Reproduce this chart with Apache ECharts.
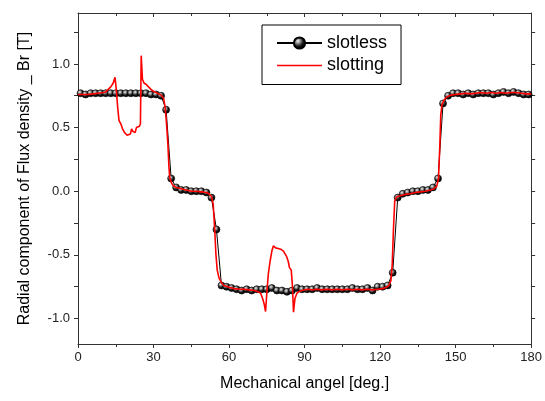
<!DOCTYPE html>
<html>
<head>
<meta charset="utf-8">
<script src="https://cdn.jsdelivr.net/npm/echarts@6/dist/echarts.min.js"></script>
<style>html,body{margin:0;padding:0;background:#fff}#c{width:545px;height:401px}</style>
</head>
<body>
<div id="c"></div>
<script>
// Angle positions (deg) of the slotless samples
const slotlessAngles = [1,3,5,7,9,11,13,15,17,19,21,23,25,27,29,31,33,35,37,39,41,43,45,47,49,51,53,55,57,59,61,63,65,67,69,71,73,75,77,79,81,83,85,87,89,91,93,95,97,99,101,103,105,107,109,111,113,115,117,119,121,123,125,127,129,131,133,135,137,139,141,143,145,147,149,151,153,155,157,159,161,163,165,167,169,171,173,175,177,179];
// Br values [T] of slotless
const slotlessBr = [0.77,0.76,0.77,0.77,0.77,0.77,0.77,0.77,0.77,0.77,0.77,0.77,0.77,0.77,0.76,0.76,0.75,0.64,0.10,0.03,0.01,0.01,0.00,0.00,0.00,-0.01,-0.05,-0.30,-0.74,-0.75,-0.76,-0.77,-0.78,-0.77,-0.78,-0.77,-0.77,-0.77,-0.76,-0.78,-0.78,-0.79,-0.78,-0.76,-0.77,-0.77,-0.77,-0.76,-0.77,-0.77,-0.77,-0.77,-0.77,-0.77,-0.76,-0.77,-0.77,-0.76,-0.78,-0.75,-0.75,-0.74,-0.64,-0.05,-0.02,-0.01,0.00,0.00,0.01,0.01,0.03,0.10,0.69,0.75,0.77,0.77,0.76,0.77,0.76,0.77,0.77,0.77,0.76,0.77,0.78,0.77,0.78,0.77,0.76,0.76];
// Angle positions (deg) of the slotting samples
const slottingAngles = [0,2,4,6,8,10,11,12,13,14,14.7,15.2,15.8,16.3,17,17.7,18.5,19.5,20.2,20.8,21.3,21.8,22.3,22.7,23.2,23.8,24.4,24.8,25.1,25.6,26.2,27,28,29,30,31,32,33,34,34.6,35.2,35.7,36.1,36.4,37,37.8,39,41,43,45,47,49,51,52,53,53.7,54.3,54.8,55.3,56,57,58,60,62,64,66,68,70,71.5,72.5,73.3,74,74.5,75,75.6,76.3,77,77.6,78,78.5,79,79.5,80,80.5,81,81.6,82.2,82.8,83.5,84,84.7,85.2,85.6,86.2,87,88,89,91,93,95,97,99,101,103,105,107,109,111,113,115,117,119,121,122.5,123.5,124.3,124.8,125.3,125.8,126.5,128,130,132,134,136,138,140,141.5,142.5,143.2,143.7,144.1,144.6,145.5,146.5,148,150,152,154,156,158,160,162,164,166,168,170,172,174,176,178,180];
// Br values [T] of slotting
const slottingBr = [0.76,0.76,0.76,0.765,0.77,0.775,0.78,0.80,0.82,0.85,0.895,0.80,0.65,0.555,0.53,0.49,0.46,0.44,0.43,0.45,0.49,0.47,0.48,0.46,0.50,0.49,0.51,0.53,1.065,0.88,0.85,0.84,0.82,0.80,0.785,0.775,0.765,0.755,0.73,0.66,0.52,0.37,0.20,0.11,0.07,0.045,0.03,0.02,0.01,0.0,0.0,-0.005,-0.01,-0.02,-0.04,-0.10,-0.30,-0.50,-0.62,-0.68,-0.72,-0.74,-0.755,-0.765,-0.77,-0.77,-0.775,-0.78,-0.79,-0.80,-0.84,-0.89,-0.945,-0.80,-0.65,-0.55,-0.47,-0.43,-0.415,-0.445,-0.43,-0.45,-0.44,-0.455,-0.44,-0.47,-0.49,-0.51,-0.55,-0.60,-0.62,-0.75,-0.95,-0.84,-0.80,-0.785,-0.78,-0.77,-0.775,-0.77,-0.775,-0.77,-0.775,-0.77,-0.775,-0.77,-0.775,-0.77,-0.775,-0.77,-0.775,-0.77,-0.765,-0.755,-0.74,-0.70,-0.58,-0.30,-0.08,-0.045,-0.035,-0.025,-0.02,-0.01,-0.005,0.0,0.01,0.02,0.04,0.10,0.35,0.60,0.68,0.72,0.74,0.755,0.76,0.765,0.77,0.765,0.77,0.775,0.77,0.775,0.77,0.775,0.77,0.775,0.775,0.77,0.765,0.765];
const seriesNames = ['slotless', 'slotting'];
const yTickValues = [-1.0,-0.75,-0.5,-0.25,0.0,0.25,0.5,0.75,1.0,1.25];
const yLabelValues = [-1.0,-0.5,0.0,0.5,1.0];
const xTitle = 'Mechanical angel [deg.]';
const yTitle = 'Radial component of Flux density _ Br [T]';

const FONT = 'Arial, "Liberation Sans", sans-serif';
const axisCol = '#333';
const sphere = {
  type: 'radial', x: 0.38, y: 0.35, r: 0.65,
  colorStops: [
    {offset: 0, color: '#f4f4f4'},
    {offset: 0.25, color: '#9a9a9a'},
    {offset: 0.6, color: '#1a1a1a'},
    {offset: 1, color: '#000'}
  ]
};

const chart = echarts.init(document.getElementById('c'), null, {renderer: 'canvas'});
chart.setOption({
  animation: false,
  backgroundColor: '#fff',
  grid: {left: 78, right: 8, top: 13, bottom: 57, containLabel: false},
  legend: {
    left: 262, top: 25, orient: 'vertical',
    data: [
      {name: seriesNames[0]},
      {name: seriesNames[1], icon: 'path://M0,0 L45,0 L45,1.6 L0,1.6 Z', itemStyle: {color: '#ff0000'}}
    ],
    itemWidth: 45, itemHeight: 14, itemGap: 4.5,
    padding: [9, 14, 10, 14],
    borderColor: '#000', borderWidth: 1, borderRadius: 0,
    textStyle: {fontFamily: FONT, fontSize: 18, color: '#000'}
  },
  xAxis: [{
    type: 'value', min: 0, max: 180, interval: 30, position: 'bottom',
    name: xTitle, nameLocation: 'middle', nameGap: 32,
    nameTextStyle: {fontFamily: FONT, fontSize: 16, color: '#000'},
    axisLine: {show: true, onZero: false, lineStyle: {color: axisCol, width: 1}},
    axisTick: {show: true, inside: false, length: 4, lineStyle: {color: axisCol}},
    minorTick: {show: true, splitNumber: 2, length: 3, lineStyle: {color: axisCol}},
    axisLabel: {fontFamily: FONT, fontSize: 13, color: '#222', margin: 7},
    splitLine: {show: false}
  }, {
    type: 'value', min: 0, max: 180, interval: 30, position: 'top',
    axisLine: {show: true, onZero: false, lineStyle: {color: axisCol, width: 1}},
    axisTick: {show: true, inside: true, length: 4, lineStyle: {color: axisCol}},
    minorTick: {show: true, splitNumber: 2, length: 3, lineStyle: {color: axisCol}},
    axisLabel: {show: false}, splitLine: {show: false}
  }],
  yAxis: [{
    type: 'value', min: -1.2, max: 1.4, position: 'left',
    name: yTitle, nameLocation: 'middle', nameGap: 45, nameRotate: 90,
    nameTextStyle: {fontFamily: FONT, fontSize: 16, color: '#000'},
    axisLine: {show: true, onZero: false, lineStyle: {color: axisCol, width: 1}},
    axisTick: {show: true, inside: false, length: 4, customValues: yTickValues, lineStyle: {color: axisCol}},
    axisLabel: {fontFamily: FONT, fontSize: 13, color: '#222', margin: 8, customValues: yLabelValues, formatter: v => Number(v).toFixed(1)},
    splitLine: {show: false}
  }, {
    type: 'value', min: -1.2, max: 1.4, position: 'right',
    axisLine: {show: true, onZero: false, lineStyle: {color: axisCol, width: 1}},
    axisTick: {show: true, inside: false, length: 4, customValues: yTickValues, lineStyle: {color: axisCol}},
    axisLabel: {show: false}, splitLine: {show: false}
  }],
  series: [{
    name: seriesNames[0], type: 'line', xAxisIndex: 0, yAxisIndex: 0,
    data: slotlessAngles.map((a, i) => [a, slotlessBr[i]]),
    symbol: 'circle', symbolSize: 7, showSymbol: true,
    lineStyle: {color: '#000', width: 1},
    itemStyle: {color: sphere, borderColor: '#000', borderWidth: 0.6},
    z: 2
  }, {
    name: seriesNames[1], type: 'line', xAxisIndex: 0, yAxisIndex: 0,
    data: slottingAngles.map((a, i) => [a, slottingBr[i]]),
    symbol: 'none', showSymbol: false,
    lineStyle: {color: '#ff0000', width: 1.6},
    itemStyle: {color: '#ff0000'},
    z: 3
  }]
});
</script>
</body>
</html>
